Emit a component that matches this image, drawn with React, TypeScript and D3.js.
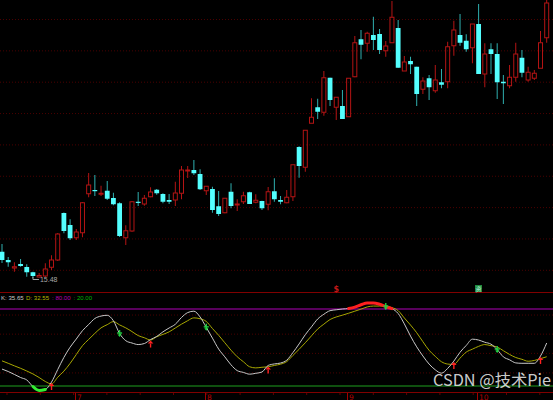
import React from "react";
import * as d3 from "d3";

const opens = [16.53,16.2,15.88,16.04,15.92,15.71,15.52,15.56,15.91,16.2,18.08,17.6,17.09,17.29,18.85,19.0,18.83,18.97,18.68,18.47,17.09,17.36,18.53,18.44,18.73,19.01,18.84,18.6,18.6,18.87,19.76,19.8,19.64,18.97,19.04,18.35,18.09,18.93,18.41,18.53,18.91,18.51,18.56,18.43,18.95,18.6,18.49,18.73,20.72,19.91,21.67,22.31,22.11,23.49,22.31,22.36,21.93,23.53,25.03,24.87,25.2,25.24,24.57,24.89,25.48,23.76,24.16,23.93,23.03,23.47,22.97,23.31,23.33,24.77,25.2,24.97,24.69,25.64,23.64,24.63,24.44,23.33,23.17,23.51,24.29,23.4,23.47,23.87,25.09];
const highs = [16.84,16.32,16.11,16.24,16.03,15.73,15.68,16.07,16.39,17.28,18.1,17.83,17.44,18.52,19.68,19.6,19.17,19.36,18.89,18.51,17.59,18.56,18.92,18.8,19.11,19.04,18.87,18.84,19.33,19.96,19.96,20.2,19.83,19.16,19.13,18.96,18.67,19.27,18.63,18.93,18.93,18.83,18.57,19.12,19.47,18.76,19.0,20.01,20.75,21.39,22.67,22.65,23.76,23.49,22.71,23.0,23.47,25.16,25.4,25.33,25.93,25.44,24.96,26.56,25.8,24.36,24.33,23.93,23.51,23.6,24.0,23.84,24.93,25.77,26.04,25.23,25.64,26.44,24.87,24.87,24.87,23.6,24.0,24.89,24.6,23.93,23.8,25.36,26.6];
const lows = [16.08,15.93,15.73,15.93,15.53,15.48,15.5,15.52,15.8,16.16,17.27,17.0,17.0,17.11,18.71,18.76,18.76,18.6,18.39,17.12,16.8,17.33,18.36,18.37,18.71,18.81,18.47,18.44,18.36,18.63,19.48,19.6,19.0,18.8,18.09,17.96,18.07,18.27,18.16,18.44,18.44,18.47,18.2,18.19,18.53,18.43,18.47,18.56,19.49,19.73,21.67,21.84,21.97,22.36,21.8,21.84,21.93,23.51,24.23,24.53,24.6,24.44,24.33,24.89,23.89,23.76,23.64,22.36,22.84,22.6,22.89,23.07,23.07,24.37,24.77,24.53,24.07,23.64,23.11,23.64,22.64,22.44,23.07,23.33,23.51,23.33,23.4,23.87,24.89];
const closes = [16.2,16.11,15.93,15.96,15.71,15.56,15.58,15.84,16.2,17.24,17.36,17.07,17.32,18.49,19.2,18.97,18.87,18.65,18.43,17.16,17.37,18.53,18.49,18.67,18.92,18.87,18.53,18.53,18.88,19.8,19.8,19.67,19.03,19.15,18.2,18.04,18.67,18.36,18.44,18.77,18.44,18.59,18.27,18.93,18.63,18.53,18.71,20.01,19.96,21.39,21.91,22.13,23.49,22.6,22.71,21.84,23.47,24.89,24.81,25.27,25.0,24.6,24.76,25.91,23.89,24.12,24.03,22.84,23.36,23.11,23.4,23.21,24.73,25.4,24.89,24.63,25.64,23.64,24.44,24.44,23.31,23.27,23.51,24.44,23.69,23.71,23.67,24.89,26.48];

const kValues = [33.2,31.3,29.0,26.6,24.7,19.6,16.5,17.3,23.1,32.8,42.3,50.2,56.6,63.1,67.9,72.6,74.5,75.1,70.8,60.9,55.3,53.5,52.3,53.1,56.2,58.6,62.2,65.2,68.1,73.4,77.2,78.3,73.8,65.7,57.3,48.8,42.7,36.5,32.0,30.6,29.2,29.9,30.9,36.0,37.2,37.9,40.1,46.0,52.8,60.0,66.1,72.2,75.9,78.7,79.4,80.0,80.4,81.5,83.3,84.7,84.7,83.7,81.9,80.3,76.5,68.4,58.9,50.5,43.4,37.1,32.6,30.0,33.7,39.4,46.3,51.6,56.5,55.8,54.1,52.6,48.4,42.7,40.4,38.0,37.7,37.7,37.7,43.4,53.5];
const dValues = [39.6,37.7,35.7,33.8,31.7,29.4,26.6,23.5,21.6,26.8,31.6,37.6,44.5,51.4,56.3,61.0,65.3,67.8,70.2,67.6,65.3,62.4,59.3,57.6,55.8,58.4,60.2,62.2,65.2,68.2,70.9,73.1,72.4,70.3,64.8,59.5,53.7,47.9,42.8,38.9,35.0,34.1,34.6,35.0,36.0,37.0,39.0,43.8,48.6,53.7,59.1,64.4,68.2,71.8,73.8,75.2,76.7,78.3,79.9,81.6,82.3,82.3,82.3,81.1,78.7,73.0,67.5,61.5,54.5,47.8,43.1,38.9,37.1,36.8,41.7,46.4,48.7,50.9,52.3,51.4,50.4,47.5,44.6,42.2,40.8,39.3,39.9,41.3,42.8];

const monthLabels = ["7", "8", "9", "10"];
const monthStarts = [12, 33, 56, 77];
const legendTexts = ["K: 35.65", "D: 32.55", ": 80.00", ": 20.00"];
const legendColors = ["#c8c8c8", "#b4b400", "#b400b4", "#00b400"];
const lowLabel = "15.48";
const kdLevels = [80, 20];
const kdGridValues = [75.3, 60.4, 45.4, 30.2];
const watermark = "CSDN @技术Pie";

const W = 553;
const H = 400;

export default function App() {
  const n = opens.length;
  const idx = d3.range(n);
  const xC = d3.scaleLinear().domain([0, n - 1]).range([2, 546.7]);
  const y = d3.scaleLinear().domain([15, 26.6]).range([290, 0]);
  const ky = d3.scaleLinear().domain([20, 80]).range([386, 309]);

  const kLine = d3.line<number>().x((_, i) => xC(i)).y((v) => ky(v)).curve(d3.curveMonotoneX);
  const kHigh = d3.line<number>().defined((v) => v > 80).x((_, i) => xC(i)).y((v) => ky(v)).curve(d3.curveMonotoneX);
  const kLow = d3.line<number>().defined((v) => v < 20).x((_, i) => xC(i)).y((v) => ky(v)).curve(d3.curveMonotoneX);

  const golden: number[] = [];
  const death: number[] = [];
  for (let i = 1; i < n; i++) {
    const a = kValues[i - 1] - dValues[i - 1];
    const b = kValues[i] - dValues[i];
    if (a < 0 && b > 0) golden.push(i);
    if (a > 0 && b < 0) death.push(i);
  }

  const gridMain = d3.range(9).map((k) => 19.5 + 31.35 * k);
  const minorTicks = d3.range(0, W, 33.3).map((v) => v + 7);
  const lowIdx = lows.indexOf(d3.min(lows) as number);

  const redC = "#b41414";
  const cyanC = "#54ffff";
  const cyanWick = "#2fb0b0";
  const dotC = "#4a0000";
  const legendX = [1, 26, 52, 73.5];

  return (
    <div style={{ position: "fixed", left: 0, top: 0, width: W, height: H, background: "#000" }}>
      <svg width={W} height={H} style={{ display: "block", background: "#000" }} fontFamily="DejaVu Sans, sans-serif">
        <rect x={0} y={0} width={W} height={H} fill="#000" />
        {gridMain.map((gy, i) => (
          <line key={"g" + i} x1={0} x2={W} y1={gy} y2={gy} stroke={dotC} strokeDasharray="1 2" />
        ))}
        {kdGridValues.map((v, i) => (
          <line key={"kg" + i} x1={0} x2={W} y1={ky(v)} y2={ky(v)} stroke={dotC} strokeDasharray="1 2" />
        ))}
        <line x1={0} x2={W} y1={292.5} y2={292.5} stroke="#800000" />
        <line x1={0} x2={W} y1={392.5} y2={392.5} stroke="#800000" />

        {/* candles */}
        {idx.map((i) => {
          const cx = xC(i);
          const o = opens[i], c = closes[i], h = highs[i], l = lows[i];
          const up = c >= o;
          const top = y(Math.max(o, c));
          const bot = y(Math.min(o, c));
          if (up) {
            return (
              <g key={"c" + i}>
                <line x1={cx} x2={cx} y1={y(h)} y2={top} stroke={redC} />
                <line x1={cx} x2={cx} y1={bot} y2={y(l)} stroke={redC} />
                <rect x={cx - 2} y={top} width={4} height={Math.max(bot - top, 1)} fill="none" stroke={redC} />
              </g>
            );
          }
          return (
            <g key={"c" + i}>
              <line x1={cx} x2={cx} y1={y(h)} y2={y(l)} stroke={cyanWick} />
              <rect x={cx - 2.4} y={top} width={4.8} height={Math.max(bot - top, 1.2)} fill={cyanC} />
            </g>
          );
        })}

        {/* lowest price marker */}
        <path
          d={`M${xC(lowIdx)},${y(lows[lowIdx]) - 1} V${y(lows[lowIdx]) + 1.5} H${xC(lowIdx) + 6}`}
          fill="none"
          stroke="#a0a0a0"
        />
        <text x={xC(lowIdx) + 7} y={y(lows[lowIdx]) + 4} fontSize={7} fill="#a8a8a8" fontFamily="Liberation Sans Narrow, Liberation Sans, sans-serif">
          {lowLabel}
        </text>

        {/* small info markers */}
        <text x={333.5} y={292} fontSize={8} fill="#c01818" fontWeight="bold">$</text>
        <rect x={475} y={285} width={7} height={7} fill="#1e8a3c" />
        <text x={475.6} y={291} fontSize={6} fill="#cfe" fontFamily="Noto Sans CJK SC">资</text>

        {/* legend */}
        {legendTexts.map((t, i) => (
          <text key={"lg" + i} x={legendX[i]} y={299.5} fontSize={6.1} fill={legendColors[i]} fontFamily="Liberation Sans Narrow, Liberation Sans, sans-serif">
            {t}
          </text>
        ))}

        {/* KD reference levels */}
        <line x1={0} x2={W} y1={ky(kdLevels[0])} y2={ky(kdLevels[0])} stroke="#b000b8" strokeWidth={1.2} />
        <line x1={0} x2={W} y1={ky(kdLevels[1])} y2={ky(kdLevels[1])} stroke="#1ea01e" strokeWidth={1.2} />

        {/* KD lines */}
        <path d={kLine(dValues) || ""} fill="none" stroke="#a8a800" strokeWidth={1} />
        <path d={kLine(kValues) || ""} fill="none" stroke="#c8c8c8" strokeWidth={1} />
        <path d={kHigh(kValues) || ""} fill="none" stroke="#ff2020" strokeWidth={3} strokeLinecap="round" />
        <path d={kLow(kValues) || ""} fill="none" stroke="#33ee33" strokeWidth={3} strokeLinecap="round" />

        {golden.map((i) => {
          const cx = xC(i);
          const ty = ky(kValues[i]) + 1;
          return (
            <g key={"gc" + i}>
              <path d={`M${cx},${ty} L${cx + 2.8},${ty + 3} L${cx - 2.8},${ty + 3} Z`} fill="#ff2020" />
              <line x1={cx} x2={cx} y1={ty + 3} y2={ty + 7} stroke="#ff2020" strokeWidth={1.4} />
            </g>
          );
        })}
        {death.map((i) => {
          const cx = xC(i);
          const cy = ky(kValues[i]);
          return (
            <g key={"dc" + i}>
              <line x1={cx} x2={cx} y1={cy - 3.5} y2={cy + 2} stroke="#20d040" strokeWidth={1.4} />
              <line x1={cx - 2.5} x2={cx + 2.5} y1={cy - 0.5} y2={cy - 0.5} stroke="#20d040" strokeWidth={1.4} />
              <path d={`M${cx - 2},${cy + 1} L${cx + 2},${cy + 1} L${cx},${cy + 3.5} Z`} fill="#20d040" />
            </g>
          );
        })}

        {/* x axis ticks */}
        {minorTicks.map((tx, i) => (
          <line key={"mt" + i} x1={tx} x2={tx} y1={393} y2={395} stroke="#600000" />
        ))}
        {monthStarts.map((mi, k) => {
          const tx = Math.round(xC(mi) - 1.5) + 0.5;
          return (
            <g key={"m" + k}>
              <line x1={tx} x2={tx} y1={393} y2={400} stroke="#a00000" />
              <text x={tx + 1.5} y={399.5} fontSize={7.5} fill="#b00000">{monthLabels[k]}</text>
            </g>
          );
        })}

        {/* watermark */}
        <text x={433} y={386} fontSize={16} fill="#e6e6e6" fillOpacity={0.9} fontFamily="Noto Sans CJK SC, Noto Sans, sans-serif" textLength={118} lengthAdjust="spacingAndGlyphs">
          {watermark}
        </text>
      </svg>
    </div>
  );
}
